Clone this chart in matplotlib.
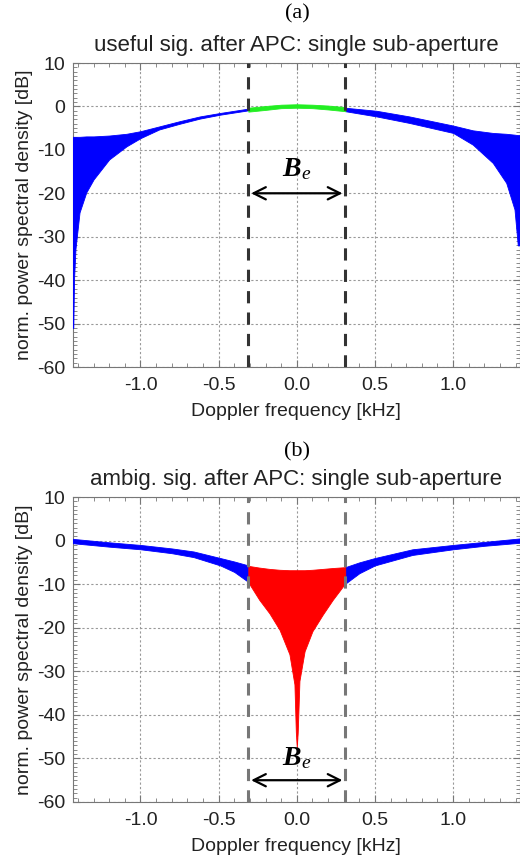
import matplotlib
matplotlib.use('Agg')
import matplotlib.pyplot as plt
from matplotlib.ticker import MultipleLocator, FormatStrFormatter

plt.rcParams['font.family'] = ['Liberation Sans', 'DejaVu Sans']
plt.rcParams['axes.unicode_minus'] = False
plt.rcParams['mathtext.fontset'] = 'custom'
plt.rcParams['mathtext.rm'] = 'Liberation Serif'
plt.rcParams['mathtext.it'] = 'Liberation Serif:italic'
plt.rcParams['mathtext.bf'] = 'Liberation Serif:italic:bold'

# (a) useful signal, envelope of the spectrum (dB)
a_left_freq = [-1.435, -1.430, -1.425, -1.416, -1.39, -1.347, -1.30, -1.20, -1.09, -1.00, -0.88, -0.75, -0.62, -0.49, -0.31]
a_left_upper = [-7.0, -7.0, -7.0, -7.0, -7.0, -6.9, -6.9, -6.7, -6.3, -5.7, -4.6, -3.4, -2.3, -1.5, -0.5]
a_left_lower = [-51.0, -51.0, -39.7, -32.8, -24.4, -19.8, -16.8, -12.2, -9.2, -7.3, -5.3, -4.0, -2.8, -1.9, -0.9]

a_mid_freq = [-0.31, -0.2, -0.1, 0.0, 0.1, 0.2, 0.31]
a_mid_upper = [-0.3, 0.1, 0.4, 0.5, 0.4, 0.2, -0.15]
a_mid_lower = [-1.2, -0.8, -0.4, -0.3, -0.4, -0.7, -1.1]

a_right_freq = [0.31, 0.51, 0.72, 1.00, 1.126, 1.254, 1.34, 1.393, 1.414, 1.43]
a_right_upper = [-0.3, -1.0, -2.3, -4.4, -5.5, -6.1, -6.3, -6.5, -6.6, -6.6]
a_right_lower = [-1.1, -2.3, -3.8, -6.1, -8.8, -13.0, -17.6, -23.7, -32.0, -32.0]

# (b) ambiguous signal
b_left_freq = [-1.435, -1.2, -1.0, -0.8, -0.66, -0.49, -0.4, -0.31]
b_left_upper = [0.4, -0.4, -1.0, -1.8, -2.5, -4.0, -4.8, -5.7]
b_left_lower = [-0.6, -1.4, -2.0, -2.9, -3.8, -5.7, -7.2, -9.5]

b_mid_freq = [-0.31, -0.24, -0.175, -0.11, -0.047, -0.015, -0.006, 0.0, 0.006, 0.017, 0.05, 0.10, 0.166, 0.23, 0.31]
b_mid_upper = [-5.8, -6.2, -6.5, -6.7, -6.8, -6.8, -6.8, -6.8, -6.8, -6.8, -6.8, -6.7, -6.5, -6.3, -6.1]
b_mid_lower = [-9.6, -13.6, -16.7, -20.5, -26.1, -33.0, -44.0, -47.5, -44.0, -32.2, -25.4, -20.8, -17.0, -13.6, -9.8]

b_right_freq = [0.31, 0.4, 0.5, 0.74, 1.0, 1.2, 1.43]
b_right_upper = [-6.1, -5.0, -4.0, -2.0, -1.0, -0.3, 0.5]
b_right_lower = [-9.9, -7.5, -5.7, -3.3, -2.0, -1.2, -0.5]

band_edge = 0.31
x_lim = (-1.435, 1.425)


def style_axes(ax):
    ax.set_xlim(*x_lim)
    ax.set_ylim(-60, 10)
    ax.xaxis.set_major_locator(MultipleLocator(0.5))
    ax.xaxis.set_minor_locator(MultipleLocator(0.1))
    ax.xaxis.set_major_formatter(FormatStrFormatter('%.1f'))
    ax.yaxis.set_major_locator(MultipleLocator(10))
    ax.yaxis.set_minor_locator(MultipleLocator(1))
    ax.tick_params(which='both', direction='in', top=True, right=True, colors='#777777',
                   labelcolor='#222222', labelsize=14)
    ax.tick_params(which='major', length=5, width=0.8)
    ax.tick_params(which='minor', length=3, width=0.6)
    ax.tick_params(axis='x', pad=7)
    ax.tick_params(axis='y', pad=5)
    ax.grid(True, which='major', linestyle=(0, (2, 2)), color='#999999', linewidth=0.8)
    for s in ax.spines.values():
        s.set_color('#777777')
        s.set_linewidth(0.8)
    ax.set_xlabel('Doppler frequency [kHz]', fontsize=14, color='#222222', labelpad=7)
    ax.set_ylabel('norm. power spectral density [dB]', fontsize=14, color='#222222', labelpad=3)


fig = plt.figure(figsize=(5.2, 8.56), dpi=100)
ax1 = fig.add_axes([72.5 / 520, 1 - 367 / 856, 447 / 520, 304 / 856])
ax2 = fig.add_axes([72.5 / 520, 1 - 802 / 856, 447 / 520, 305 / 856])

# panel (a)
ax1.fill_between(a_left_freq, a_left_lower, a_left_upper, color='#0000ff', lw=0.6, zorder=3)
ax1.fill_between(a_right_freq, a_right_lower, a_right_upper, color='#0000ff', lw=0.6, zorder=3)
ax1.fill_between(a_mid_freq, a_mid_lower, a_mid_upper, color='#22ee22', lw=0.6, zorder=3)
for xv in (-band_edge, band_edge):
    ax1.axvline(xv, color='#333333', lw=2.2, ls=(0, (4, 3)), zorder=4)
ax1.annotate('', xy=(-band_edge, -20), xytext=(band_edge, -20),
             arrowprops=dict(arrowstyle='<->', lw=1.6, color='black', mutation_scale=22), zorder=5)
ax1.text(0, -14.5, r'$\mathbf{B}_{\mathit{e}}$', ha='center', va='center', fontsize=20, zorder=5)
style_axes(ax1)
ax1.set_title('useful sig. after APC: single sub-aperture', fontsize=16, color='#222222', pad=9)

# panel (b)
ax2.fill_between(b_left_freq, b_left_lower, b_left_upper, color='#0000ff', lw=0.6, zorder=3)
ax2.fill_between(b_right_freq, b_right_lower, b_right_upper, color='#0000ff', lw=0.6, zorder=3)
ax2.fill_between(b_mid_freq, b_mid_lower, b_mid_upper, color='#ff0000', lw=0.6, zorder=3)
for xv in (-band_edge, band_edge):
    ax2.axvline(xv, color='#777777', lw=2.2, ls=(0, (4, 3)), zorder=4)
ax2.annotate('', xy=(-band_edge, -55), xytext=(band_edge, -55),
             arrowprops=dict(arrowstyle='<->', lw=1.6, color='black', mutation_scale=22), zorder=5)
ax2.text(0, -50, r'$\mathbf{B}_{\mathit{e}}$', ha='center', va='center', fontsize=20, zorder=5)
style_axes(ax2)
ax2.set_title('ambig. sig. after APC: single sub-aperture', fontsize=16, color='#222222', pad=9)

fig.text(297 / 520, 1 - 14 / 856, '(a)', ha='center', va='center', fontsize=16,
         family='Liberation Serif')
fig.text(297 / 520, 1 - 452 / 856, '(b)', ha='center', va='center', fontsize=16,
         family='Liberation Serif')

fig.savefig('out.png', dpi=100, facecolor='white')
